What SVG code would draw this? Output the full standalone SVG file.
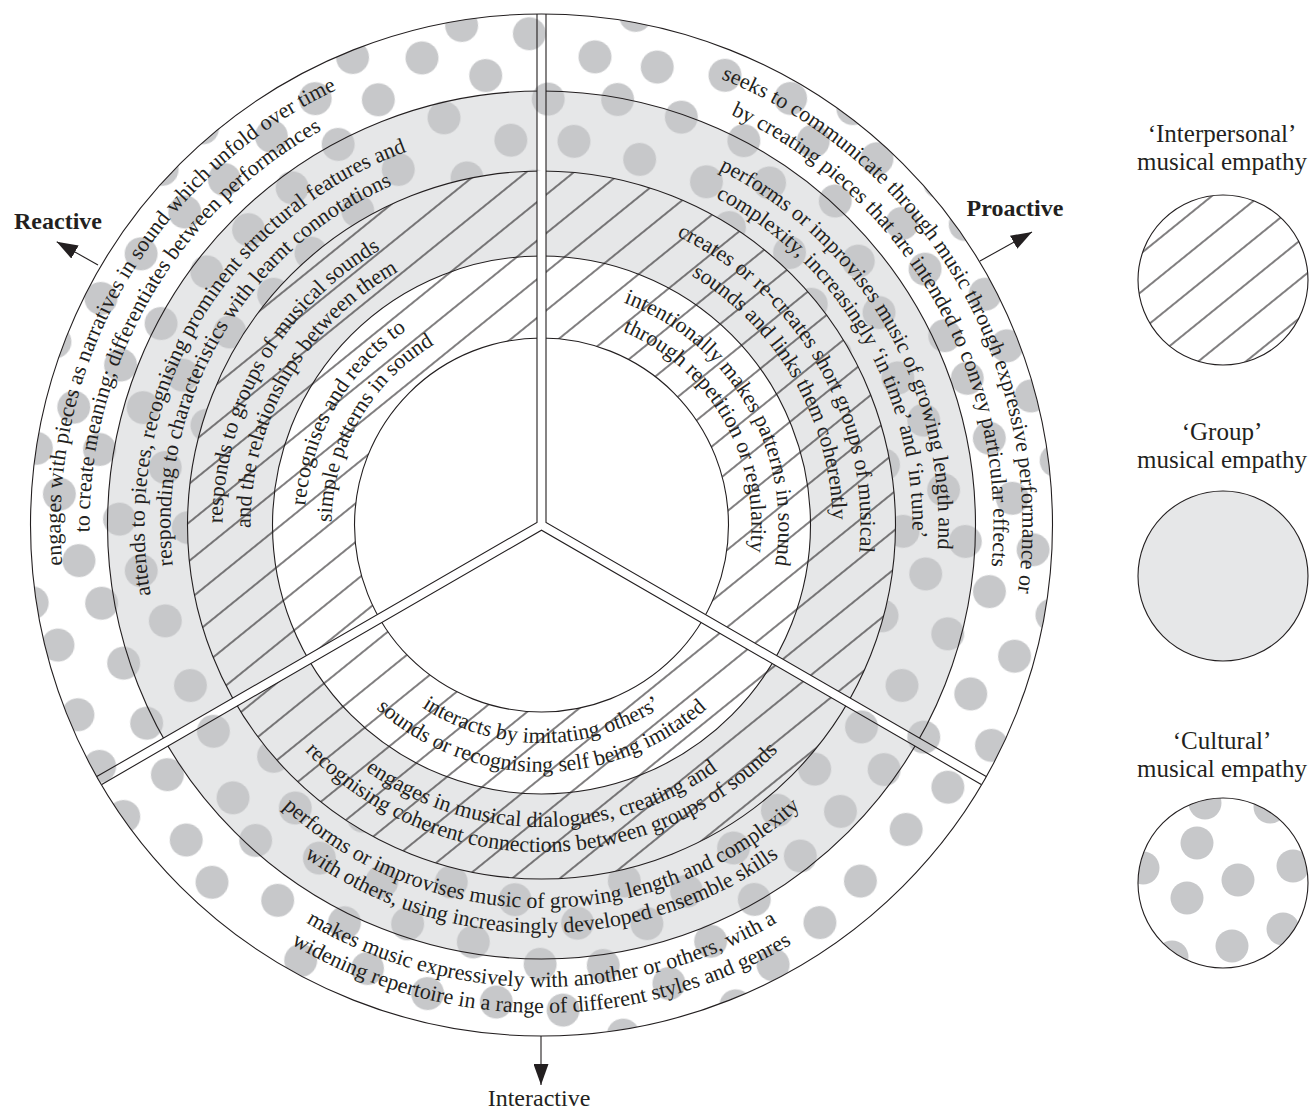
<svg xmlns="http://www.w3.org/2000/svg" xmlns:xlink="http://www.w3.org/1999/xlink" width="1314" height="1111" viewBox="0 0 1314 1111">
  <style>
    .ln { fill: none; stroke: #231f20; stroke-width: 1.1; }
    .ring-txt { font-family: "Liberation Serif", "Times New Roman", serif; font-size: 22px; fill: #231f20; }
    .lab { font-family: "Liberation Serif", "Times New Roman", serif; font-size: 25px; fill: #231f20; text-anchor: middle; }
    .bold { font-weight: bold; font-size: 24px; }
  </style>
  <defs>
    <!-- diagonal hatching: interpersonal empathy -->
    <pattern id="hatch" patternUnits="userSpaceOnUse" width="30" height="30" patternTransform="rotate(-39)">
      <path d="M0,15 H30" stroke="#231f20" stroke-width="1.15"/>
    </pattern>
    <!-- scattered grey dots: cultural empathy -->
    <pattern id="dots" patternUnits="userSpaceOnUse" width="200" height="200" patternTransform="translate(541.5,525) rotate(12)">
      <g fill="#c7c8ca">
        <circle cx="20" cy="22" r="16.5"/>
        <circle cx="90" cy="30" r="16.5"/>
        <circle cx="152" cy="18" r="16.5"/>
        <circle cx="55" cy="76" r="16.5"/>
        <circle cx="122" cy="70" r="16.5"/>
        <circle cx="186" cy="82" r="16.5"/>
        <circle cx="-14" cy="82" r="16.5"/>
        <circle cx="18" cy="128" r="16.5"/>
        <circle cx="86" cy="122" r="16.5"/>
        <circle cx="155" cy="131" r="16.5"/>
        <circle cx="52" cy="172" r="16.5"/>
        <circle cx="118" cy="182" r="16.5"/>
        <circle cx="118" cy="-18" r="16.5"/>
        <circle cx="186" cy="168" r="16.5"/>
        <circle cx="-14" cy="168" r="16.5"/>
      </g>
    </pattern>
    <marker id="arrow" viewBox="0 0 21 15" refX="21" refY="7.5" markerWidth="21" markerHeight="15" markerUnits="userSpaceOnUse" orient="auto">
      <path d="M0,0 L21,7.5 L0,15 z" fill="#231f20"/>
    </marker>
    <!-- the three white dividing bands -->
    <g id="bands" transform="translate(541.5,525)">
      <rect x="-4.5" y="0" width="9" height="513" transform="rotate(180)"/>
      <rect x="-4.5" y="0" width="9" height="513" transform="rotate(-60)"/>
      <rect x="-4.5" y="0" width="9" height="513" transform="rotate(60)"/>
    </g>
    <mask id="noBands" maskUnits="userSpaceOnUse" x="0" y="0" width="1314" height="1111">
      <rect x="0" y="0" width="1314" height="1111" fill="#fff"/>
      <use xlink:href="#bands" fill="#000"/>
    </mask>
    <clipPath id="cultClip"><circle cx="1223" cy="883" r="85"/></clipPath>
    <!-- text baselines, relative to the wheel centre -->
    <path id="l481" d="M-275.89,394.01 A481,481 0 0 1 203.28,-435.93"/>
    <path id="l452" d="M-259.26,370.26 A452,452 0 0 1 191.02,-409.65"/>
    <path id="l397" d="M-227.71,325.20 A397,397 0 0 1 167.78,-359.80"/>
    <path id="l371" d="M-212.80,303.90 A371,371 0 0 1 156.79,-336.24"/>
    <path id="l319" d="M-182.97,261.31 A319,319 0 0 1 134.81,-289.11"/>
    <path id="l291" d="M-166.91,238.37 A291,291 0 0 1 122.98,-263.74"/>
    <path id="l237" d="M-135.94,194.14 A237,237 0 0 1 100.16,-214.80"/>
    <path id="l210" d="M-120.45,172.02 A210,210 0 0 1 88.75,-190.32"/>
    <path id="r481" d="M-203.28,-435.93 A481,481 0 0 1 275.89,394.01"/>
    <path id="r452" d="M-191.02,-409.65 A452,452 0 0 1 259.26,370.26"/>
    <path id="r397" d="M-167.78,-359.80 A397,397 0 0 1 227.71,325.20"/>
    <path id="r371" d="M-156.79,-336.24 A371,371 0 0 1 212.80,303.90"/>
    <path id="r319" d="M-134.81,-289.11 A319,319 0 0 1 182.97,261.31"/>
    <path id="r291" d="M-122.98,-263.74 A291,291 0 0 1 166.91,238.37"/>
    <path id="r237" d="M-100.16,-214.80 A237,237 0 0 1 135.94,194.14"/>
    <path id="r210" d="M-88.75,-190.32 A210,210 0 0 1 120.45,172.02"/>
    <path id="b218" d="M-217.17,19.00 A218,218 0 0 0 217.17,19.00"/>
    <path id="b247" d="M-246.06,21.53 A247,247 0 0 0 246.06,21.53"/>
    <path id="b302" d="M-300.85,26.32 A302,302 0 0 0 300.85,26.32"/>
    <path id="b327" d="M-325.76,28.50 A327,327 0 0 0 325.76,28.50"/>
    <path id="b383" d="M-381.54,33.38 A383,383 0 0 0 381.54,33.38"/>
    <path id="b408" d="M-406.45,35.56 A408,408 0 0 0 406.45,35.56"/>
    <path id="b462" d="M-460.24,40.27 A462,462 0 0 0 460.24,40.27"/>
    <path id="b488" d="M-486.14,42.53 A488,488 0 0 0 486.14,42.53"/>
  </defs>

  <!-- wheel fills -->
  <g id="wheel">
    <circle cx="541.5" cy="525" r="511" fill="#fff"/>
    <path d="M541.5,91 a434,434 0 1 0 0.001,0 z M541.5,256 a269,269 0 1 1 -0.001,0 z" fill="#e6e7e8" fill-rule="evenodd"/>
    <path d="M541.5,171 a354,354 0 1 0 0.001,0 z M541.5,338 a187,187 0 1 1 -0.001,0 z" fill="url(#hatch)" fill-rule="evenodd"/>
    <use xlink:href="#bands" fill="#fff"/>
    <path d="M541.5,14 a511,511 0 1 0 0.001,0 z M541.5,171 a354,354 0 1 1 -0.001,0 z" fill="url(#dots)" fill-rule="evenodd"/>
    <g class="ln" mask="url(#noBands)">
      <circle cx="541.5" cy="525" r="187"/>
      <circle cx="541.5" cy="525" r="269"/>
      <circle cx="541.5" cy="525" r="354"/>
      <circle cx="541.5" cy="525" r="434"/>
    </g>
    <circle class="ln" cx="541.5" cy="525" r="511"/>
  </g>

  <!-- dividing band edges and direction arrows -->
  <g id="connectors" class="ln">
    <polyline points="537,14 537,522.4 96.75,776.6"/>
    <polyline points="546,14 546,522.4 986.25,776.6"/>
    <polyline points="101.75,784.4 541.5,530.2 981.25,784.4"/>
    <line x1="98" y1="265" x2="56.7" y2="241.7" marker-end="url(#arrow)"/>
    <line x1="980" y1="261" x2="1032" y2="232" marker-end="url(#arrow)"/>
    <line x1="541" y1="1036" x2="541" y2="1085" marker-end="url(#arrow)"/>
  </g>

  <!-- Reactive sector -->
  <g id="reactive" class="ring-txt" transform="translate(541.5,525)" text-anchor="middle">
    <text><textPath xlink:href="#l481" startOffset="50%">engages with pieces as narratives in sound which unfold over time</textPath></text>
    <text><textPath xlink:href="#l452" startOffset="50%">to create meaning; differentiates between performances</textPath></text>
    <text><textPath xlink:href="#l397" startOffset="50%">attends to pieces, recognising prominent structural features and</textPath></text>
    <text><textPath xlink:href="#l371" startOffset="50%">responding to characteristics with learnt connotations</textPath></text>
    <text><textPath xlink:href="#l319" startOffset="50%">responds to groups of musical sounds</textPath></text>
    <text><textPath xlink:href="#l291" startOffset="50%">and the relationships between them</textPath></text>
    <text><textPath xlink:href="#l237" startOffset="50%">recognises and reacts to</textPath></text>
    <text><textPath xlink:href="#l210" startOffset="50%">simple patterns in sound</textPath></text>
  </g>

  <!-- Proactive sector -->
  <g id="proactive" class="ring-txt" transform="translate(541.5,525)" text-anchor="middle">
    <text><textPath xlink:href="#r481" startOffset="50%">seeks to communicate through music through expressive performance or</textPath></text>
    <text><textPath xlink:href="#r452" startOffset="50%">by creating pieces that are intended to convey particular effects</textPath></text>
    <text><textPath xlink:href="#r397" startOffset="50%">performs or improvises music of growing length and</textPath></text>
    <text><textPath xlink:href="#r371" startOffset="50%">complexity, increasingly ‘in time’ and ‘in tune’</textPath></text>
    <text><textPath xlink:href="#r319" startOffset="50%">creates or re-creates short groups of musical</textPath></text>
    <text><textPath xlink:href="#r291" startOffset="50%">sounds and links them coherently</textPath></text>
    <text><textPath xlink:href="#r237" startOffset="50%">intentionally makes patterns in sound</textPath></text>
    <text><textPath xlink:href="#r210" startOffset="50%">through repetition or regularity</textPath></text>
  </g>

  <!-- Interactive sector -->
  <g id="interactive" class="ring-txt" transform="translate(541.5,525)" text-anchor="middle">
    <text><textPath xlink:href="#b218" startOffset="50%">interacts by imitating others’</textPath></text>
    <text><textPath xlink:href="#b247" startOffset="50%">sounds or recognising self being imitated</textPath></text>
    <text><textPath xlink:href="#b302" startOffset="50%">engages in musical dialogues, creating and</textPath></text>
    <text><textPath xlink:href="#b327" startOffset="50%">recognising coherent connections between groups of sounds</textPath></text>
    <text><textPath xlink:href="#b383" startOffset="50%">performs or improvises music of growing length and complexity</textPath></text>
    <text><textPath xlink:href="#b408" startOffset="50%">with others, using increasingly developed ensemble skills</textPath></text>
    <text><textPath xlink:href="#b462" startOffset="50%">makes music expressively with another or others, with a</textPath></text>
    <text><textPath xlink:href="#b488" startOffset="50%">widening repertoire in a range of different styles and genres</textPath></text>
  </g>

  <!-- direction labels -->
  <g id="labels">
    <text class="lab bold" x="58" y="229">Reactive</text>
    <text class="lab bold" x="1015" y="216">Proactive</text>
    <text class="lab" x="539" y="1106" style="font-size:24px">Interactive</text>
  </g>

  <!-- key -->
  <g id="key-interpersonal">
    <text class="lab" x="1222" y="142">‘Interpersonal’</text>
    <text class="lab" x="1222" y="170">musical empathy</text>
    <circle cx="1223" cy="280" r="85" fill="#fff"/>
    <circle cx="1223" cy="280" r="85" class="ln" style="fill:url(#hatch)"/>
  </g>
  <g id="key-group">
    <text class="lab" x="1222" y="440">‘Group’</text>
    <text class="lab" x="1222" y="468">musical empathy</text>
    <circle cx="1223" cy="576" r="85" class="ln" style="fill:#e6e7e8"/>
  </g>
  <g id="key-cultural">
    <text class="lab" x="1222" y="749">‘Cultural’</text>
    <text class="lab" x="1222" y="777">musical empathy</text>
    <g clip-path="url(#cultClip)" fill="#c7c8ca">
      <circle cx="1205" cy="803" r="16.5"/>
      <circle cx="1270" cy="807" r="16.5"/>
      <circle cx="1197" cy="843" r="16.5"/>
      <circle cx="1293" cy="866" r="16.5"/>
      <circle cx="1143" cy="868" r="16.5"/>
      <circle cx="1238" cy="880" r="16.5"/>
      <circle cx="1187" cy="898" r="16.5"/>
      <circle cx="1283" cy="929" r="16.5"/>
      <circle cx="1232" cy="946" r="16.5"/>
      <circle cx="1172" cy="957" r="16.5"/>
    </g>
    <circle cx="1223" cy="883" r="85" class="ln"/>
  </g>
</svg>
